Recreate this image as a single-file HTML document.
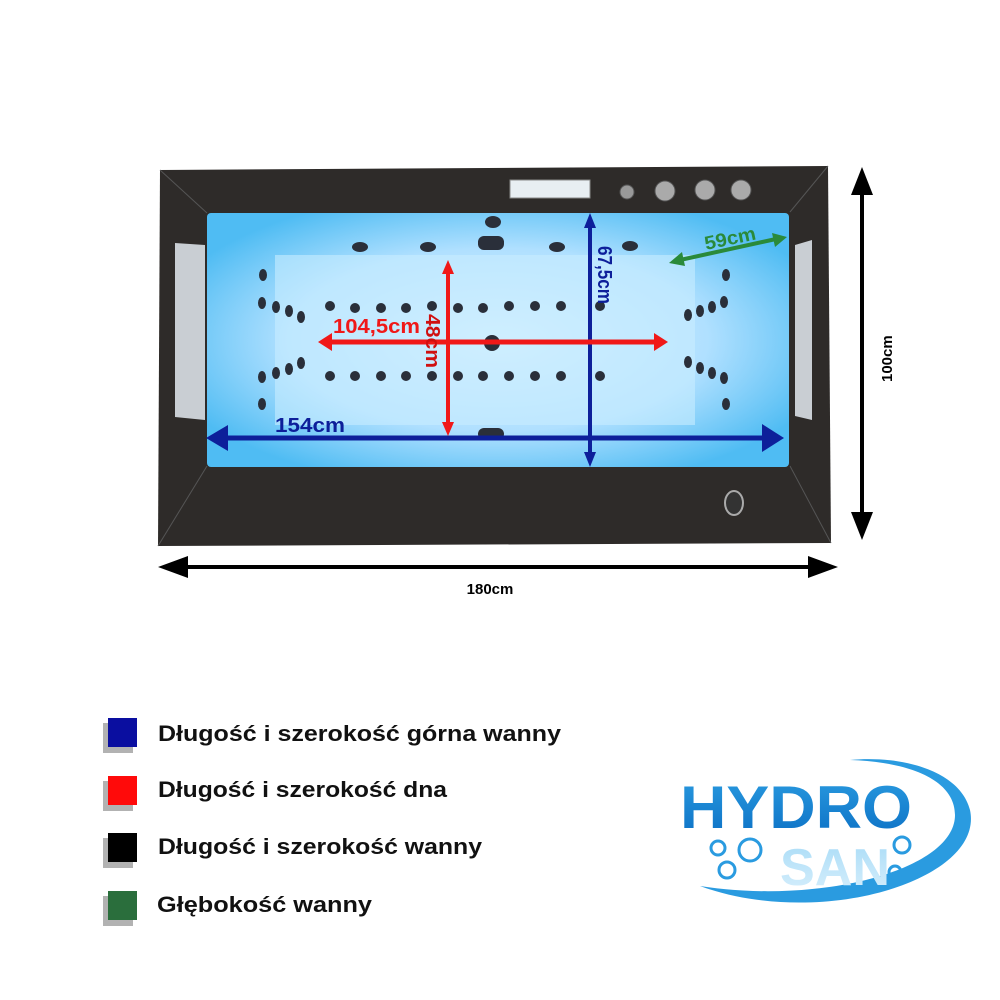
<!DOCTYPE html>
<html><head><meta charset="utf-8"><style>html,body{margin:0;padding:0;background:#fff}svg{display:block}</style></head>
<body>
<svg width="1000" height="1000" viewBox="0 0 1000 1000" xmlns="http://www.w3.org/2000/svg" font-family="Liberation Sans, DejaVu Sans, sans-serif">
<defs>
<radialGradient id="tub" cx="50%" cy="50%" r="60%">
<stop offset="0" stop-color="#d8f1ff"/><stop offset="0.6" stop-color="#b0e0ff"/><stop offset="1" stop-color="#4fbcf3"/></radialGradient>
<linearGradient id="logo" x1="0" y1="0" x2="0" y2="1"><stop offset="0" stop-color="#2a9be0"/><stop offset="1" stop-color="#0b6fc4"/></linearGradient>
<linearGradient id="san" x1="0" y1="0" x2="0" y2="1"><stop offset="0" stop-color="#a9dcf7"/><stop offset="1" stop-color="#d8effc"/></linearGradient>
</defs>
<polygon points="160,170 828,166 831,543 158,546" fill="#2e2b29"/>
<line x1="160" y1="170" x2="207" y2="213" stroke="#555" stroke-width="1"/>
<line x1="828" y1="166" x2="790" y2="212" stroke="#555" stroke-width="1"/>
<line x1="158" y1="546" x2="207" y2="466" stroke="#555" stroke-width="1"/>
<line x1="831" y1="543" x2="790" y2="466" stroke="#555" stroke-width="1"/>
<rect x="207" y="213" width="582" height="254" rx="4" fill="url(#tub)"/>
<rect x="275" y="255" width="420" height="170" fill="#c8ecff" opacity="0.6"/>
<polygon points="175,243 205,245 205,420 175,417" fill="#c9ced3"/>
<polygon points="795,245 812,240 812,420 795,416" fill="#c9ced3"/>
<rect x="510" y="180" width="80" height="18" fill="#e8eef2" stroke="#888"/>
<circle cx="627" cy="192" r="7" fill="#999" stroke="#555"/>
<circle cx="665" cy="191" r="10" fill="#aaa" stroke="#555"/>
<circle cx="705" cy="190" r="10" fill="#aaa" stroke="#555"/>
<circle cx="741" cy="190" r="10" fill="#aaa" stroke="#555"/>
<ellipse cx="734" cy="503" rx="9" ry="12" fill="#333" stroke="#aaa" stroke-width="2"/>
<g fill="#2a2f3a">
<circle cx="330" cy="306" r="5"/><circle cx="355" cy="308" r="5"/><circle cx="381" cy="308" r="5"/><circle cx="406" cy="308" r="5"/><circle cx="432" cy="306" r="5"/><circle cx="458" cy="308" r="5"/><circle cx="483" cy="308" r="5"/><circle cx="509" cy="306" r="5"/><circle cx="535" cy="306" r="5"/><circle cx="561" cy="306" r="5"/><circle cx="600" cy="306" r="5"/>
<circle cx="330" cy="376" r="5"/><circle cx="355" cy="376" r="5"/><circle cx="381" cy="376" r="5"/><circle cx="406" cy="376" r="5"/><circle cx="432" cy="376" r="5"/><circle cx="458" cy="376" r="5"/><circle cx="483" cy="376" r="5"/><circle cx="509" cy="376" r="5"/><circle cx="535" cy="376" r="5"/><circle cx="561" cy="376" r="5"/><circle cx="600" cy="376" r="5"/>
<circle cx="492" cy="343" r="8"/>
<rect x="478" y="236" width="26" height="14" rx="6"/><rect x="478" y="428" width="26" height="12" rx="6"/>
<ellipse cx="360" cy="247" rx="8" ry="5"/><ellipse cx="428" cy="247" rx="8" ry="5"/><ellipse cx="557" cy="247" rx="8" ry="5"/><ellipse cx="630" cy="246" rx="8" ry="5"/>
<ellipse cx="493" cy="222" rx="8" ry="6"/>
<ellipse cx="263" cy="275" rx="4" ry="6"/><ellipse cx="262" cy="303" rx="4" ry="6"/><ellipse cx="276" cy="307" rx="4" ry="6"/><ellipse cx="289" cy="311" rx="4" ry="6"/><ellipse cx="301" cy="317" rx="4" ry="6"/>
<ellipse cx="262" cy="377" rx="4" ry="6"/><ellipse cx="276" cy="373" rx="4" ry="6"/><ellipse cx="289" cy="369" rx="4" ry="6"/><ellipse cx="301" cy="363" rx="4" ry="6"/><ellipse cx="262" cy="404" rx="4" ry="6"/>
<ellipse cx="726" cy="275" rx="4" ry="6"/><ellipse cx="688" cy="315" rx="4" ry="6"/><ellipse cx="700" cy="311" rx="4" ry="6"/><ellipse cx="712" cy="307" rx="4" ry="6"/><ellipse cx="724" cy="302" rx="4" ry="6"/>
<ellipse cx="688" cy="362" rx="4" ry="6"/><ellipse cx="700" cy="368" rx="4" ry="6"/><ellipse cx="712" cy="373" rx="4" ry="6"/><ellipse cx="724" cy="378" rx="4" ry="6"/><ellipse cx="726" cy="404" rx="4" ry="6"/>
</g>
<g fill="#0d1f9a" stroke="#0d1f9a">
<line x1="222" y1="438" x2="768" y2="438" stroke-width="5"/>
<polygon points="206,438 228,425 228,451" stroke="none"/>
<polygon points="784,438 762,424 762,452" stroke="none"/>
<line x1="590" y1="224" x2="590" y2="456" stroke-width="4"/>
<polygon points="590,213 584,228 596,228" stroke="none"/>
<polygon points="590,467 584,452 596,452" stroke="none"/>
</g>
<text x="275" y="432" font-size="20" font-weight="bold" fill="#0d1f9a" textLength="70" lengthAdjust="spacingAndGlyphs">154cm</text>
<text transform="translate(598,246) rotate(90)" font-size="20" font-weight="bold" fill="#0d1f9a" textLength="58" lengthAdjust="spacingAndGlyphs">67,5cm</text>
<g fill="#f01818" stroke="#f01818">
<line x1="330" y1="342" x2="656" y2="342" stroke-width="5"/>
<polygon points="318,342 332,333 332,351" stroke="none"/>
<polygon points="668,342 654,333 654,351" stroke="none"/>
<line x1="448" y1="272" x2="448" y2="425" stroke-width="4"/>
<polygon points="448,260 442,274 454,274" stroke="none"/>
<polygon points="448,436 442,422 454,422" stroke="none"/>
</g>
<text x="333" y="333" font-size="20" font-weight="bold" fill="#f01818" textLength="87" lengthAdjust="spacingAndGlyphs">104,5cm</text>
<text transform="translate(426,314) rotate(90)" font-size="20" font-weight="bold" fill="#d01010" textLength="54" lengthAdjust="spacingAndGlyphs">48cm</text>
<g fill="#2a8a3a" stroke="#2a8a3a">
<line x1="680" y1="260" x2="776" y2="239" stroke-width="4"/>
<polygon points="669,263 682,252 685,266" stroke="none"/>
<polygon points="787,237 772,233 775,247" stroke="none"/>
</g>
<text transform="translate(706,250) rotate(-12)" font-size="19" font-weight="bold" fill="#2a8a3a" textLength="52" lengthAdjust="spacingAndGlyphs">59cm</text>
<g fill="#000" stroke="#000">
<line x1="862" y1="185" x2="862" y2="522" stroke-width="4"/>
<polygon points="862,167 851,195 873,195" stroke="none"/>
<polygon points="862,540 851,512 873,512" stroke="none"/>
<line x1="178" y1="567" x2="818" y2="567" stroke-width="4"/>
<polygon points="158,567 188,556 188,578" stroke="none"/>
<polygon points="838,567 808,556 808,578" stroke="none"/>
</g>
<text transform="translate(892,382) rotate(-90)" font-size="15" font-weight="bold" fill="#000">100cm</text>
<text x="490" y="594" font-size="15" font-weight="bold" fill="#000" text-anchor="middle">180cm</text>
<g>
<rect x="103" y="723" width="30" height="30" fill="#666" opacity="0.5"/><rect x="108" y="718" width="29" height="29" fill="#0a0ea0"/>
<rect x="103" y="781" width="30" height="30" fill="#666" opacity="0.5"/><rect x="108" y="776" width="29" height="29" fill="#ff0a0a"/>
<rect x="103" y="838" width="30" height="30" fill="#666" opacity="0.5"/><rect x="108" y="833" width="29" height="29" fill="#000"/>
<rect x="103" y="896" width="30" height="30" fill="#666" opacity="0.5"/><rect x="108" y="891" width="29" height="29" fill="#2a6e3c"/>
</g>
<g font-size="22" font-weight="bold" fill="#111">
<text x="158" y="741" textLength="403" lengthAdjust="spacingAndGlyphs">Długość i szerokość górna wanny</text>
<text x="158" y="797" textLength="289" lengthAdjust="spacingAndGlyphs">Długość i szerokość dna</text>
<text x="158" y="854" textLength="324" lengthAdjust="spacingAndGlyphs">Długość i szerokość wanny</text>
<text x="157" y="912" textLength="215" lengthAdjust="spacingAndGlyphs">Głębokość wanny</text>
</g>
<path d="M700,886 C820,930 985,880 970,810 C960,770 900,755 850,760 C910,762 955,780 955,815 C955,870 820,905 700,886 Z" fill="#2a9be0"/>
<text x="680" y="828" font-size="60" font-weight="bold" fill="url(#logo)" textLength="232" lengthAdjust="spacingAndGlyphs">HYDRO</text>
<text x="780" y="885" font-size="52" font-weight="bold" fill="url(#san)" textLength="110" lengthAdjust="spacingAndGlyphs">SAN</text>
<g fill="none" stroke="#2a9be0" stroke-width="3">
<circle cx="718" cy="848" r="7"/><circle cx="750" cy="850" r="11"/><circle cx="727" cy="870" r="8"/><circle cx="902" cy="845" r="8"/><circle cx="895" cy="872" r="6"/>
</g>
</svg>
</body></html>
